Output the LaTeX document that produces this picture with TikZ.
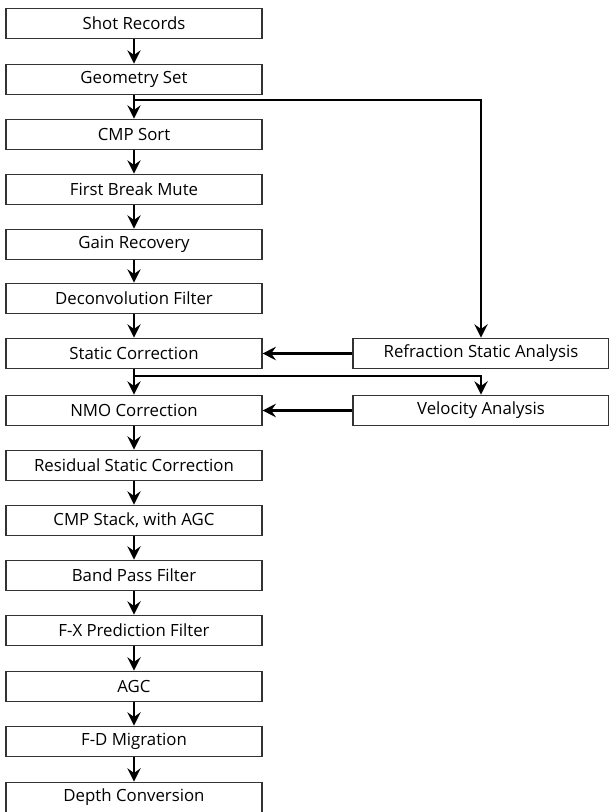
\documentclass[tikz,border=0pt]{standalone}
\usepackage{fontspec}
\setmainfont{Open Sans}
\usetikzlibrary{arrows.meta}
\begin{document}
\begin{tikzpicture}[x=0.75pt,y=-0.75pt,
  box/.style={draw=black!80, line width=0.8pt, minimum width=192pt, minimum height=23pt, inner sep=0pt, fill=white, font=\fontsize{12.6}{14}\selectfont},
  arr/.style={line width=2.2pt, line join=miter, -{Stealth[length=10pt,width=10pt,inset=3.5pt]}}]
\useasboundingbox (0,0) rectangle (608,812);
\node[box] (shot)   at (134,23.5)  {Shot Records};
\node[box] (geom)   at (134,79.5)  {Geometry Set};
\node[box] (cmp)    at (134,134.5) {CMP Sort};
\node[box] (fbm)    at (134,189.5) {First Break Mute};
\node[box] (gain)   at (134,244.5) {Gain Recovery};
\node[box] (decon)  at (134,298.5) {Deconvolution Filter};
\node[box] (static) at (134,353.5) {Static Correction};
\node[box] (nmo)    at (134,410.5) {NMO Correction};
\node[box] (resid)  at (134,465.5) {Residual Static Correction};
\node[box] (stack)  at (134,520.5) {CMP Stack, with AGC};
\node[box] (band)   at (134,575.5) {Band Pass Filter};
\node[box] (fx)     at (134,630.5) {F-X Prediction Filter};
\node[box] (agc)    at (134,686.5) {AGC};
\node[box] (fdm)    at (134,741.5) {F-D Migration};
\node[box] (depth)  at (134,797.5) {Depth Conversion};
\node[box] (refr)   at (481,353.5) {Refraction Static Analysis};
\node[box] (vel)    at (481,410.5) {Velocity Analysis};
\draw[arr] (shot) -- (geom);
\draw[arr] (geom) -- (cmp);
\draw[arr] (cmp) -- (fbm);
\draw[arr] (fbm) -- (gain);
\draw[arr] (gain) -- (decon);
\draw[arr] (decon) -- (static);
\draw[arr] (static) -- (nmo);
\draw[arr] (nmo) -- (resid);
\draw[arr] (resid) -- (stack);
\draw[arr] (stack) -- (band);
\draw[arr] (band) -- (fx);
\draw[arr] (fx) -- (agc);
\draw[arr] (agc) -- (fdm);
\draw[arr] (fdm) -- (depth);
\coordinate (b1) at (134,100);
\coordinate (b2) at (134,376);
\draw[arr] (b1) -| (refr.north);
\draw[arr] (b2) -| (vel.north);
\draw[arr] (refr) -- (static);
\draw[arr] (vel) -- (nmo);
\end{tikzpicture}
\end{document}
